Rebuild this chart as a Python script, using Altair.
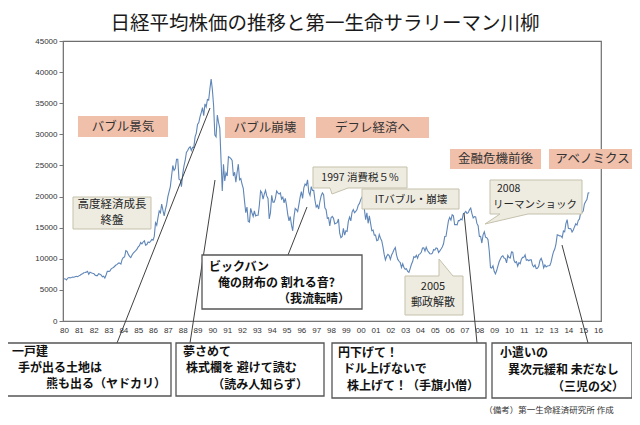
import altair as alt
import pandas as pd

# ---------------- data ----------------
start_year = 1980
nikkei_1980s = [
    6800, 6760, 6600, 6900, 6990, 6940, 6990, 7060, 7030, 7120, 7180, 7120,
    7250, 7360, 7500, 7590, 7760, 7800, 7850, 7990, 7520, 7850, 7740, 7680,
    7640, 7400, 7300, 7300, 7600, 7500, 7400, 7100, 7200, 6900, 7400, 8000,
    7980, 8000, 8340, 8500, 8600, 8800, 9000, 9100, 9300, 9300, 9150, 9890,
    10200, 10300, 11300, 11200, 10700, 10400, 10200, 10600, 10900, 11100, 11300, 11540,
    11900, 12100, 12600, 12400, 12700, 12900, 12200, 12300, 12700, 12600, 12800, 13100,
    13000, 13600, 15800, 15400, 16600, 17700, 17400, 18800, 17800, 16900, 17900, 18700,
    20000, 20800, 21600, 23300, 25000, 24200, 24500, 26000, 26000, 22800, 22700, 21600,
    23600, 24900, 25800, 27100, 27400, 27800, 28000, 27400, 27900, 27900, 29600, 30200,
    31600, 31900, 32800, 33500, 34300, 33000, 34900, 34400, 35600, 35500, 37300, 38900,
]
nikkei_1990s = [
    37200, 34600, 29900, 29600, 33100, 31900, 31000, 25900, 20900, 25200, 22500, 23800,
    23300, 26400, 26300, 26100, 25800, 23300, 23900, 22300, 23900, 25200, 22700, 22900,
    22000, 21300, 19300, 17400, 18300, 16000, 15900, 18100, 17400, 16800, 17700, 16900,
    17000, 17000, 18600, 20900, 20600, 19600, 20400, 21000, 20100, 19700, 16400, 17400,
    20200, 19100, 19100, 19700, 20900, 20600, 20400, 20600, 19600, 19900, 19000, 19700,
    18600, 17100, 16100, 16800, 15400, 14500, 16700, 18100, 17900, 17600, 18700, 19900,
    20800, 19700, 21400, 22000, 21800, 22700, 20700, 20200, 21600, 21000, 21000, 19400,
    18300, 18600, 18000, 19200, 20100, 20600, 20300, 18200, 17900, 16500, 16600, 15300,
    16600, 16800, 16500, 15600, 15700, 15800, 16400, 14100, 13400, 13600, 14900, 13800,
    14500, 14400, 16000, 16700, 16100, 17500, 17900, 17400, 17600, 17900, 18600, 18900,
]
nikkei_2000s = [
    19500, 19900, 20300, 17900, 16300, 17400, 15700, 16900, 15700, 14500, 14600, 13800,
    13800, 12900, 13000, 13900, 13300, 12900, 11900, 10700, 9800, 10400, 10700, 10500,
    9900, 10600, 11000, 11500, 11800, 10600, 9900, 9600, 9400, 8600, 9200, 8600,
    8300, 8400, 7970, 7830, 8420, 9080, 9560, 10340, 10220, 10560, 10100, 10680,
    10780, 11040, 11720, 11760, 11240, 11860, 11330, 11080, 10820, 10770, 10900, 11490,
    11390, 11740, 11670, 11010, 11280, 11580, 11900, 12410, 13570, 13600, 14870, 16110,
    16650, 16210, 17060, 16900, 15470, 15500, 15460, 16140, 16130, 16400, 16270, 17230,
    17380, 17600, 17290, 17400, 17880, 18140, 17250, 16570, 16790, 16740, 15680, 15310,
    13590, 13600, 12530, 13850, 14340, 13480, 13380, 13070, 11260, 8580, 8510, 8860,
    7990, 7570, 8110, 8830, 9520, 9960, 10360, 10490, 10130, 10030, 9350, 10550,
]
nikkei_2010s = [
    10200, 10130, 11090, 11060, 9770, 9380, 9540, 8820, 9370, 9200, 9940, 10230,
    10240, 10620, 9760, 9850, 9690, 9820, 9830, 8960, 8700, 8990, 8430, 8460,
    8800, 9720, 10080, 9520, 8540, 9010, 8700, 8840, 8870, 8930, 9450, 10400,
    11140, 11560, 12400, 13860, 13770, 13680, 13670, 13390, 14460, 14330, 15660, 16290,
    14910, 14840, 14830, 14300, 14630, 15160, 15620, 15420, 16170, 16410, 17460, 17450,
    17670, 18800, 19210, 19520, 20560, 20600,
]

x_ticks = list(range(1980, 2017))
y_ticks = list(range(0, 45001, 5000))

title_text = "日経平均株価の推移と第一生命サラリーマン川柳"
era_labels = ["バブル景気", "バブル崩壊", "デフレ経済へ", "金融危機前後", "アベノミクス"]
event_growth = ["高度経済成長", "終盤"]
event_tax = "1997 消費税５%"
event_it = "ITバブル・崩壊"
event_lehman = ["2008", "リーマンショック"]
event_postal = ["2005", "郵政解散"]
senryu_bigbang = ["ビックバン", "俺の財布の  割れる音?", "（我流転晴）"]
senryu_1 = ["一戸建", "手が出る土地は", "熊も出る（ヤドカリ）"]
senryu_2 = ["夢さめて", "株式欄を 避けて読む", "（読み人知らず）"]
senryu_3 = ["円下げて！", "ドル上げないで", "株上げて！（手旗小僧）"]
senryu_4 = ["小遣いの", "異次元緩和 未だなし", "（三児の父）"]
source_note = "（備考）第一生命経済研究所 作成"

values = nikkei_1980s + nikkei_1990s + nikkei_2000s + nikkei_2010s
df = pd.DataFrame({"t": [start_year + i / 12 for i in range(len(values))], "v": values})

# ---------------- helpers (page pixel coords -> plot coords) ----------------
OX, OY = 63, 41
JP = "Noto Sans CJK JP"
one = pd.DataFrame({"k": [0]})
ERA_FILL = "#f0c0aa"
NOTE_FILL = "#eeece1"
NOTE_STROKE = "#c5c1ab"
SENRYU_SIZE = 12


def rect(x1, y1, x2, y2, fill, stroke=None, sw=1.0):
    kw = dict(fill=fill)
    if stroke:
        kw.update(stroke=stroke, strokeWidth=sw)
    return alt.Chart(one).mark_rect(**kw).encode(
        x=alt.value(x1 - OX), x2=alt.value(x2 - OX),
        y=alt.value(y1 - OY), y2=alt.value(y2 - OY))


def rule(x1, y1, x2, y2):
    return alt.Chart(one).mark_rule(color="#404040", strokeWidth=1).encode(
        x=alt.value(x1 - OX), x2=alt.value(x2 - OX),
        y=alt.value(y1 - OY), y2=alt.value(y2 - OY))


def bubble(points, fill=NOTE_FILL, stroke=NOTE_STROKE):
    path = "M" + " L".join(f"{x - OX},{y - OY}" for x, y in points) + " Z"
    return alt.Chart(one).mark_point(
        shape=path, size=4, filled=True, fill=fill, stroke=stroke,
        strokeWidth=1, opacity=1, fillOpacity=1, strokeOpacity=1).encode(
        x=alt.value(0), y=alt.value(0))


def text(s, x, y, size, align="left", weight="normal", color="#262626"):
    return alt.Chart(one).mark_text(
        text=s, align=align, baseline="middle", font=JP, fontSize=size,
        fontWeight=weight, color=color).encode(
        x=alt.value(x - OX), y=alt.value(y - OY))


# ---------------- series ----------------
line = alt.Chart(df).mark_line(color="#5f86b8", strokeWidth=1.1).encode(
    x=alt.X("t:Q", scale=alt.Scale(domain=[1979.93, 2016.2], nice=False, zero=False),
            axis=alt.Axis(values=x_ticks, labelExpr="substring(toString(datum.value), 2, 4)",
                          ticks=False, grid=False, labelFontSize=8, labelColor="#333",
                          labelPadding=5, domainColor="#777", title=None,
                          labelFont="Liberation Sans", labelFlush=False)),
    y=alt.Y("v:Q", scale=alt.Scale(domain=[0, 45000], nice=False),
            axis=alt.Axis(values=y_ticks, format="d", grid=False, ticks=True, tickSize=4,
                          tickColor="#777", labelFontSize=8, labelColor="#333",
                          labelPadding=2, domainColor="#777", title=None,
                          labelFont="Liberation Sans")),
)

layers = [line]

# pointer lines
layers += [
    rule(117, 343, 210, 108),
    rule(190, 343, 215, 180),
    rule(288, 255, 307, 207),
    rule(477, 343, 464, 213),
    rule(588, 343, 562, 245),
]

# era boxes
era_boxes = [(78, 116, 168, 137), (225, 117, 305, 138), (316, 117, 429, 138),
             (450, 149, 541, 169), (549, 149, 636, 169)]
for (x1, y1, x2, y2), lab in zip(era_boxes, era_labels):
    layers.append(rect(x1, y1, x2, y2, ERA_FILL))
    layers.append(text(lab, (x1 + x2) / 2, (y1 + y2) / 2, 12.5, align="center", color="#333"))

# event notes
layers.append(rect(73, 197, 151, 229, NOTE_FILL, NOTE_STROKE))
layers.append(text(event_growth[0], 112, 205, 11.5, align="center"))
layers.append(text(event_growth[1], 112, 221, 11.5, align="center"))

layers.append(bubble([(313, 167), (407, 167), (407, 188), (348, 188), (332, 194), (330, 188), (313, 188)]))
layers.append(text(event_tax, 360, 178, 10.5, align="center"))

layers.append(rect(362, 189, 459, 209, NOTE_FILL, NOTE_STROKE))
layers.append(text(event_it, 411, 200, 10.5, align="center"))

layers.append(bubble([(490, 180), (582, 180), (582, 214), (528, 214), (485, 224), (500, 214), (490, 214)]))
layers.append(text(event_lehman[0], 497, 189, 10.5, align="left"))
layers.append(text(event_lehman[1], 493, 205, 10.5, align="left"))

layers.append(bubble([(405, 276), (439, 276), (439, 259), (453, 276), (463, 276), (463, 315), (405, 315)]))
layers.append(text(event_postal[0], 433, 287, 11, align="center"))
layers.append(text(event_postal[1], 433, 303, 11, align="center"))

# senryu boxes
BOX_STROKE = "#555555"
layers.append(rect(202, 255, 362, 309, "white", BOX_STROKE, 1.3))
layers.append(text(senryu_bigbang[0], 209, 267, SENRYU_SIZE, weight="bold", color="#111"))
layers.append(text(senryu_bigbang[1], 218, 283, SENRYU_SIZE, weight="bold", color="#111"))
layers.append(text(senryu_bigbang[2], 350, 299, SENRYU_SIZE, align="right", weight="bold", color="#111"))

senryu_boxes = [
    ((5, 343, 171, 396), senryu_1, (12, 18, 166), (352, 368, 384)),
    ((176, 343, 324, 396), senryu_2, (183, 186, 308), (352, 368, 385)),
    ((332, 343, 486, 398), senryu_3, (338, 343, 479), (353, 369, 386)),
    ((492, 343, 632, 398), senryu_4, (500, 508, 624), (353, 370, 387)),
]
for (x1, y1, x2, y2), lines, xs, ys in senryu_boxes:
    layers.append(rect(x1, y1, x2, y2, "white", BOX_STROKE, 1.3))
    layers.append(text(lines[0], xs[0], ys[0], SENRYU_SIZE, weight="bold", color="#111"))
    layers.append(text(lines[1], xs[1], ys[1], SENRYU_SIZE, weight="bold", color="#111"))
    layers.append(text(lines[2], xs[2], ys[2], SENRYU_SIZE, align="right", weight="bold", color="#111"))

# title and source
layers.append(text(title_text, 325, 24, 19.5, align="center", color="#1a1a1a"))
layers.append(text(source_note, 549, 410, 8.5, align="center", color="#333"))

chart = alt.layer(*layers).properties(
    width=538, height=280,
    autosize=alt.AutoSizeParams(type="none"),
    padding={"left": 55, "top": 33, "right": 31, "bottom": 95},
    background="white",
).configure_view(stroke="#6e6e6e", strokeWidth=1.2)

chart.save("out.html", embed_options={"renderer": "svg", "actions": False})
